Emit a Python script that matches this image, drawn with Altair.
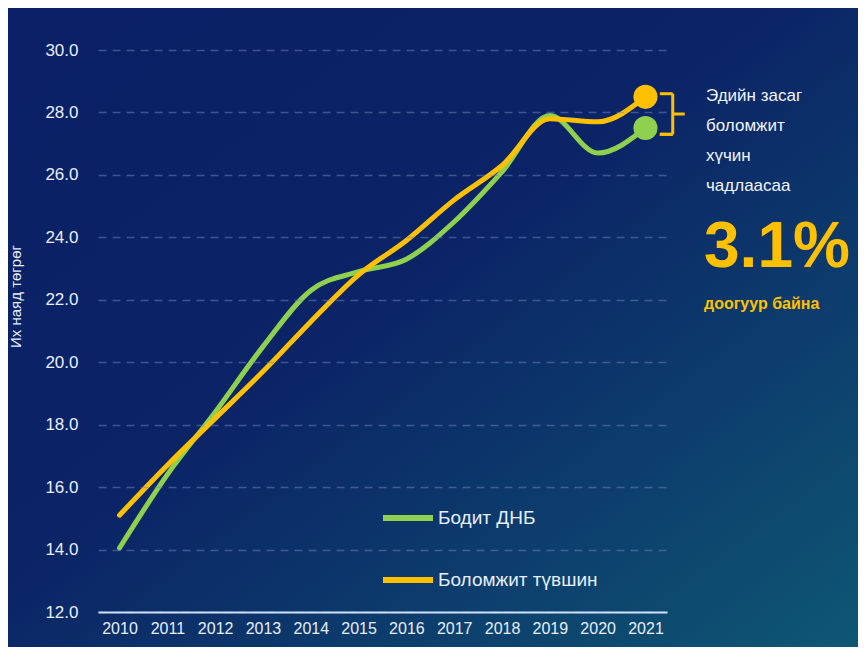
import altair as alt
import pandas as pd

years = list(range(2010, 2022))
actual = [14.05, 16.4, 18.4, 20.5, 22.3, 22.9, 23.3, 24.5, 26.1, 27.9, 26.7, 27.5]
potential = [15.1, 16.7, 18.2, 19.7, 21.3, 22.8, 23.9, 25.2, 26.3, 27.8, 27.7, 28.5]
series_names = ["Бодит ДНБ", "Боломжит түвшин"]
series_colors = ["#8fd14f", "#ffc000"]
y_ticks = [12, 14, 16, 18, 20, 22, 24, 26, 28, 30]
note_lines = ["Эдийн засаг", "боломжит", "хүчин", "чадлаасаа"]
gap_label = "3.1%"
gap_sub = "доогуур байна"
y_title = "Их наяд төгрөг"

rows = []
for y, a, p in zip(years, actual, potential):
    rows.append({"year": y, "value": a, "series": series_names[0], "ord": 0})
    rows.append({"year": y, "value": p, "series": series_names[1], "ord": 1})
df = pd.DataFrame(rows)

W, H = 569, 562
PL, PT, PR, PB = 90, 42, 191, 35
FONT = "Liberation Sans Narrow, Arial Narrow, Liberation Sans, Arial"

xscale = alt.Scale(domain=[2009.55, 2021.45], nice=False, zero=False)
yscale = alt.Scale(domain=[12, 30], nice=False, zero=False)
cscale = alt.Scale(domain=series_names, range=series_colors)

bg = alt.Chart(pd.DataFrame({"a": [0]})).mark_rect(
    fill=alt.Gradient(
        gradient="linear", x1=0, y1=0, x2=1, y2=1,
        stops=[alt.GradientStop(color="#0a1f66", offset=0),
               alt.GradientStop(color="#0b2466", offset=0.45),
               alt.GradientStop(color="#0e5773", offset=1)]
    )
).encode(
    x=alt.value(-PL), x2=alt.value(W + PR), y=alt.value(-PT), y2=alt.value(H + PB)
)

base = alt.Chart(df)

lines = base.mark_line(strokeWidth=5, interpolate="monotone", strokeCap="round").encode(
    x=alt.X("year:Q", scale=xscale,
            axis=alt.Axis(values=years, format="d", grid=False, domain=True,
                          domainColor="#cfe0ff", domainWidth=2, ticks=False,
                          labelColor="#e6eeff", labelFontSize=16, labelFont=FONT,
                          labelPadding=8, title=None, labelFlush=False, zindex=1)),
    y=alt.Y("value:Q", scale=yscale,
            axis=alt.Axis(values=y_ticks, format=".1f", grid=True,
                          gridColor="#6f86c0", gridOpacity=0.5, gridDash=[8, 6],
                          gridWidth=1.5, domain=False, ticks=False,
                          labelColor="#e6eeff", labelFontSize=17, labelFont=FONT,
                          labelPadding=20, title=y_title, titleColor="#e6eeff",
                          titleFontSize=15, titleFont=FONT, titleFontWeight="normal",
                          titleX=-83, titleY=246, titleAngle=270,
                          titleAlign="center", titleBaseline="middle", zindex=1)),
    color=alt.Color("series:N", scale=cscale, sort=series_names,
                    legend=alt.Legend(orient="none", legendX=282, legendY=440,
                                      title=None, symbolType="stroke",
                                      symbolSize=2500, symbolStrokeWidth=6,
                                      labelColor="#e6eeff", labelFontSize=19,
                                      labelFont=FONT, rowPadding=22,
                                      labelOffset=2, labelLimit=300, zindex=2)),
    order=alt.Order("ord:Q", sort="ascending"),
)

last = df[df["year"] == years[-1]].copy()
last["ord2"] = [1, 0]
dots = alt.Chart(last).mark_circle(size=580, opacity=1).encode(
    x=alt.X("year:Q", scale=xscale),
    y=alt.Y("value:Q", scale=yscale),
    color=alt.Color("series:N", scale=cscale, legend=None),
    order=alt.Order("ord2:Q"),
)

# bracket between the two 2021 values
bx0, bx1, bx2 = years[-1] + 0.3, years[-1] + 0.57, years[-1] + 0.82
top, bot = potential[-1] + 0.1, actual[-1] - 0.2
mid = (top + bot) / 2
br = pd.DataFrame({
    "x": [bx0, bx1, bx1, bx0, bx1],
    "y": [top, top, bot, bot, mid],
    "x2": [bx1, bx1, bx0, bx1, bx2],
    "y2": [top, bot, bot, bot, mid],
})
bracket = alt.Chart(br).mark_rule(color="#ffc000", strokeWidth=3).encode(
    x=alt.X("x:Q", scale=xscale), x2="x2:Q",
    y=alt.Y("y:Q", scale=yscale), y2="y2:Q",
)

note = alt.Chart(pd.DataFrame({"t": ["\n".join(note_lines)]})).mark_text(
    align="left", baseline="top", color="#f2f5ff", fontSize=17, font=FONT,
    lineBreak="\n", lineHeight=30
).encode(x=alt.value(608), y=alt.value(38), text="t:N")

big = alt.Chart(pd.DataFrame({"t": [gap_label]})).mark_text(
    align="left", baseline="middle", color="#ffc000", fontSize=64,
    fontWeight="bold", font="Liberation Sans Narrow, Arial Narrow, Liberation Sans"
).encode(x=alt.value(606), y=alt.value(198), text="t:N")

sub = alt.Chart(pd.DataFrame({"t": [gap_sub]})).mark_text(
    align="left", baseline="middle", color="#ffc000", fontSize=16,
    fontWeight="bold", font=FONT
).encode(x=alt.value(606), y=alt.value(254), text="t:N")

chart = alt.layer(bg, lines, dots, bracket, note, big, sub).properties(
    width=W, height=H,
    autosize=alt.AutoSizeParams(type="none"),
    padding={"left": PL, "top": PT, "right": PR, "bottom": PB},
    background="#0a1f66",
).configure_view(stroke=None)

chart.save("out.html", embed_options={"renderer": "svg", "actions": False})
